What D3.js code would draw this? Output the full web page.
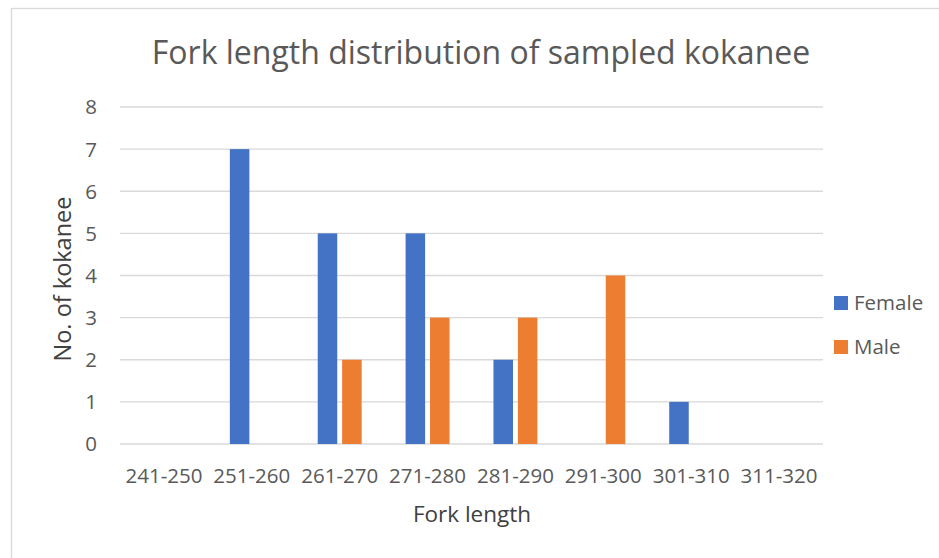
<!DOCTYPE html>
<html>
<head>
<meta charset="utf-8">
<script src="https://cdn.jsdelivr.net/npm/d3@7"></script>
<style>
  body { margin: 0; background: #fff; }
  svg { display: block; font-family: "Open Sans", "Noto Sans", sans-serif; }
</style>
</head>
<body>
<div id="chart"></div>
<script>
// Fork length bins and counts per sex
const bins = ['241-250', '251-260', '261-270', '271-280', '281-290', '291-300', '301-310', '311-320'];
const series = ['Female', 'Male'];
const female = [0, 7, 5, 5, 2, 0, 1, 0];
const male = [0, 0, 2, 3, 3, 4, 0, 0];
const yTicks = [0, 1, 2, 3, 4, 5, 6, 7, 8];

const colors = { Female: '#4472C4', Male: '#ED7D31' };

const width = 939;
const height = 558;
const margin = { top: 107, right: 116, bottom: 114, left: 120 };

const svg = d3.select('#chart')
  .append('svg')
  .attr('width', width)
  .attr('height', height);

// chart area frame (cropped on right/bottom)
svg.append('rect')
  .attr('x', 11.5)
  .attr('y', 8.5)
  .attr('width', 1000)
  .attr('height', 600)
  .attr('fill', '#fff')
  .attr('stroke', '#d9d9d9')
  .attr('stroke-width', 1.3);

const x0 = d3.scaleBand()
  .domain(bins)
  .range([margin.left, width - margin.right])
  .paddingInner(0.5)
  .paddingOuter(0.25);

const x1 = d3.scaleBand()
  .domain(series)
  .range([0, x0.bandwidth()])
  .paddingInner(0.2);

const y = d3.scaleLinear()
  .domain([0, 8])
  .range([height - margin.bottom, margin.top]);

// gridlines
svg.append('g')
  .selectAll('line')
  .data(yTicks)
  .join('line')
  .attr('x1', margin.left)
  .attr('x2', width - margin.right)
  .attr('y1', d => y(d))
  .attr('y2', d => y(d))
  .attr('stroke', '#d9d9d9')
  .attr('stroke-width', 1.3);

// y tick labels
svg.append('g')
  .selectAll('text')
  .data(yTicks)
  .join('text')
  .attr('x', 97)
  .attr('y', d => y(d))
  .attr('dy', '0.36em')
  .attr('text-anchor', 'end')
  .attr('fill', '#595959')
  .attr('font-size', '20.5px')
  .text(d => d);

// bars
const rows = bins.map((b, i) => ({ bin: b, Female: female[i], Male: male[i] }));

svg.append('g')
  .selectAll('g')
  .data(rows)
  .join('g')
  .attr('transform', d => `translate(${x0(d.bin)},0)`)
  .selectAll('rect')
  .data(d => series.map(s => ({ key: s, value: d[s] })).filter(d => d.value > 0))
  .join('rect')
  .attr('x', d => x1(d.key))
  .attr('width', x1.bandwidth())
  .attr('y', d => y(d.value))
  .attr('height', d => y(0) - y(d.value))
  .attr('fill', d => colors[d.key]);

// x tick labels
svg.append('g')
  .selectAll('text')
  .data(bins)
  .join('text')
  .attr('x', d => x0(d) + x0.bandwidth() / 2)
  .attr('y', 483)
  .attr('text-anchor', 'middle')
  .attr('fill', '#595959')
  .attr('font-size', '20.5px')
  .text(d => d);

// title
svg.append('text')
  .attr('x', 481)
  .attr('y', 64)
  .attr('text-anchor', 'middle')
  .attr('fill', '#595959')
  .attr('font-size', '32px')
  .text('Fork length distribution of sampled kokanee');

// axis titles
svg.append('text')
  .attr('x', 472)
  .attr('y', 522)
  .attr('text-anchor', 'middle')
  .attr('fill', '#404040')
  .attr('font-size', '22.5px')
  .text('Fork length');

svg.append('text')
  .attr('transform', 'translate(71,279) rotate(-90)')
  .attr('text-anchor', 'middle')
  .attr('fill', '#404040')
  .attr('font-size', '23.5px')
  .text('No. of kokanee');

// legend
const legend = svg.append('g')
  .selectAll('g')
  .data(series)
  .join('g')
  .attr('transform', (d, i) => `translate(834,${296 + i * 44})`);

legend.append('rect')
  .attr('width', 14)
  .attr('height', 14)
  .attr('fill', d => colors[d]);

legend.append('text')
  .attr('x', 20)
  .attr('y', 7)
  .attr('dy', '0.36em')
  .attr('fill', '#595959')
  .attr('font-size', '20.5px')
  .text(d => d);
</script>
</body>
</html>
